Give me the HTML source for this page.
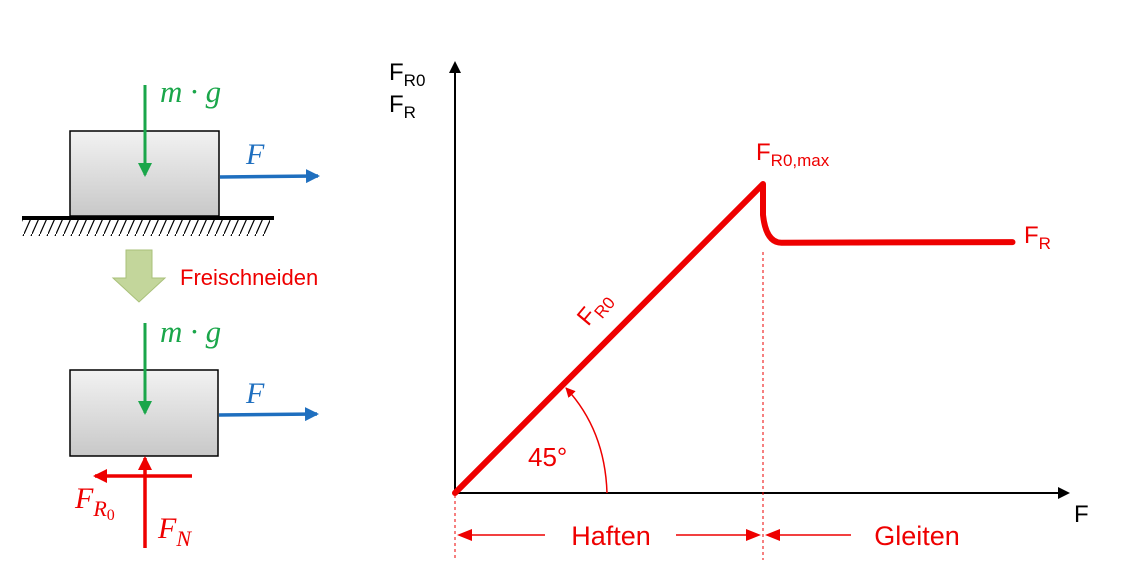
<!DOCTYPE html>
<html><head><meta charset="utf-8"><style>
html,body{margin:0;padding:0;background:#fff;}
svg{display:block;}
text{font-family:"Liberation Sans",sans-serif;}
.it{font-family:"Liberation Serif",serif;font-style:italic;}
</style></head><body>
<svg width="1124" height="573" viewBox="0 0 1124 573">
<defs>
<linearGradient id="gb" x1="0" y1="0" x2="0" y2="1"><stop offset="0" stop-color="#f2f2f2"/><stop offset="1" stop-color="#c8c8c8"/></linearGradient>
<marker id="ak" markerWidth="12" markerHeight="12" refX="10" refY="6" orient="auto" markerUnits="userSpaceOnUse"><path d="M0,0 L12,6 L0,12z" fill="#000"/></marker>
<marker id="ag" markerWidth="14" markerHeight="14" refX="12" refY="7" orient="auto" markerUnits="userSpaceOnUse"><path d="M0,0 L14,7 L0,14z" fill="#1aa64a"/></marker>
<marker id="ab" markerWidth="14" markerHeight="14" refX="12" refY="7" orient="auto" markerUnits="userSpaceOnUse"><path d="M0,0 L14,7 L0,14z" fill="#1f6fbf"/></marker>
<marker id="ar" markerWidth="14" markerHeight="14" refX="12" refY="7" orient="auto" markerUnits="userSpaceOnUse"><path d="M0,0 L14,7 L0,14z" fill="#e00"/></marker>
<marker id="ar2" markerWidth="10" markerHeight="10" refX="9" refY="5" orient="auto" markerUnits="userSpaceOnUse"><path d="M0,0 L10,5 L0,10z" fill="#e00"/></marker>
<pattern id="hatch" width="8" height="18" patternUnits="userSpaceOnUse"><line x1="8" y1="0" x2="0" y2="18" stroke="#000" stroke-width="1.2"/></pattern>
</defs>

<g>
<rect x="22" y="220" width="248" height="16" fill="url(#hatch)"/>
<line x1="22" y1="218" x2="274" y2="218" stroke="#000" stroke-width="4"/>
<rect x="70" y="131" width="149" height="85" fill="url(#gb)" stroke="#000" stroke-width="1.5"/>
<line x1="145" y1="85" x2="145" y2="175" stroke="#1aa64a" stroke-width="3" marker-end="url(#ag)"/>
<text x="160" y="102" class="it" font-size="31" fill="#1aa64a">m · g</text>
<line x1="220" y1="177" x2="318" y2="176" stroke="#1f6fbf" stroke-width="3.5" marker-end="url(#ab)"/>
<text x="246" y="164" class="it" font-size="30" fill="#1f6fbf">F</text>
</g>
<path d="M126,250 H152 V278 H165 L139,302 L113,278 H126 Z" fill="#c3d69b" stroke="#a9c07a"/>
<text x="180" y="285" font-size="22" fill="#e00">Freischneiden</text>

<g>
<rect x="70" y="370" width="148" height="86" fill="url(#gb)" stroke="#000" stroke-width="1.5"/>
<line x1="145" y1="323" x2="145" y2="413" stroke="#1aa64a" stroke-width="3" marker-end="url(#ag)"/>
<text x="160" y="342" class="it" font-size="31" fill="#1aa64a">m · g</text>
<line x1="219" y1="415" x2="317" y2="414" stroke="#1f6fbf" stroke-width="3.5" marker-end="url(#ab)"/>
<text x="246" y="403" class="it" font-size="30" fill="#1f6fbf">F</text>
<line x1="145" y1="548" x2="145" y2="458" stroke="#e00" stroke-width="3.5" marker-end="url(#ar)"/>
<line x1="192" y1="476" x2="95" y2="476" stroke="#e00" stroke-width="3.5" marker-end="url(#ar)"/>
<text x="75" y="508" class="it" font-size="30" fill="#e00">F<tspan font-size="22" dy="8">R</tspan><tspan font-size="16" dy="4" font-style="normal">0</tspan></text>
<text x="158" y="538" class="it" font-size="30" fill="#e00">F<tspan font-size="22" dy="8">N</tspan></text>
</g>

<g id="chart">
<line x1="455" y1="493" x2="1068" y2="493" stroke="#000" stroke-width="2" marker-end="url(#ak)"/>
<line x1="455" y1="493" x2="455" y2="63" stroke="#000" stroke-width="2" marker-end="url(#ak)"/>
<text x="1074" y="522" font-size="24" fill="#000">F</text>
<text x="389" y="80" font-size="24" fill="#000">F<tspan font-size="17" dy="6">R0</tspan></text>
<text x="389" y="112" font-size="24" fill="#000">F<tspan font-size="17" dy="6">R</tspan></text>
<line x1="455" y1="495" x2="455" y2="560" stroke="#e00" stroke-width="1" stroke-dasharray="3,3"/>
<path d="M607,493 Q605,430 566,388" fill="none" stroke="#e00" stroke-width="1.5" marker-end="url(#ar2)"/>
<text x="528" y="466" font-size="26" fill="#e00">45°</text>
<text x="0" y="0" font-size="24" fill="#e00" transform="translate(588,327) rotate(-50)">F<tspan font-size="17" dy="6">R0</tspan></text>
<text x="756" y="160" font-size="24" fill="#e00">F<tspan font-size="17" dy="6">R0,max</tspan></text>
<text x="1024" y="243" font-size="24" fill="#e00">F<tspan font-size="17" dy="6">R</tspan></text>
<line x1="472" y1="535" x2="545" y2="535" stroke="#e00" stroke-width="1.5"/>
<path d="M457,535 L472,529 L472,541Z" fill="#e00"/>
<line x1="676" y1="535" x2="747" y2="535" stroke="#e00" stroke-width="1.5"/>
<path d="M761,535 L746,529 L746,541Z" fill="#e00"/>
<line x1="780" y1="535" x2="851" y2="535" stroke="#e00" stroke-width="1.5"/>
<path d="M765,535 L780,529 L780,541Z" fill="#e00"/>
<text x="611" y="545" font-size="27" fill="#e00" text-anchor="middle">Haften</text>
<text x="917" y="545" font-size="27" fill="#e00" text-anchor="middle">Gleiten</text>
</g>
</svg>
<script>
const forceX = [0, 1, 1.0, 1.01, 1.06, 1.81];
const frictionY = [0, 1, 0.9, 0.84, 0.81, 0.812];
const peakX = 1;
const NS = "http://www.w3.org/2000/svg";
function sx(v){ return 455 + v * 308; }
function sy(v){ return 493 - v * 309; }
const chart = document.getElementById('chart');
let d = "M" + sx(forceX[0]) + "," + sy(frictionY[0]) + " L" + sx(forceX[1]) + "," + sy(frictionY[1]) + " L" + sx(forceX[2]) + "," + sy(frictionY[2]);
d += " Q" + sx(forceX[3]) + "," + sy(frictionY[4]) + " " + sx(forceX[4]) + "," + sy(frictionY[4]);
d += " L" + sx(forceX[5]) + "," + sy(frictionY[5]);
const p = document.createElementNS(NS, 'path');
p.setAttribute('d', d);
p.setAttribute('fill', 'none');
p.setAttribute('stroke', '#e00');
p.setAttribute('stroke-width', '6');
p.setAttribute('stroke-linecap', 'round');
p.setAttribute('stroke-linejoin', 'round');


chart.appendChild(p);
const dl = document.createElementNS(NS, 'line');
dl.setAttribute('x1', sx(peakX)); dl.setAttribute('x2', sx(peakX));
dl.setAttribute('y1', sy(0.78)); dl.setAttribute('y2', 560);
dl.setAttribute('stroke', '#e00'); dl.setAttribute('stroke-width', '1');
dl.setAttribute('stroke-dasharray', '3,3');


chart.appendChild(dl);
</script>
</body></html>
